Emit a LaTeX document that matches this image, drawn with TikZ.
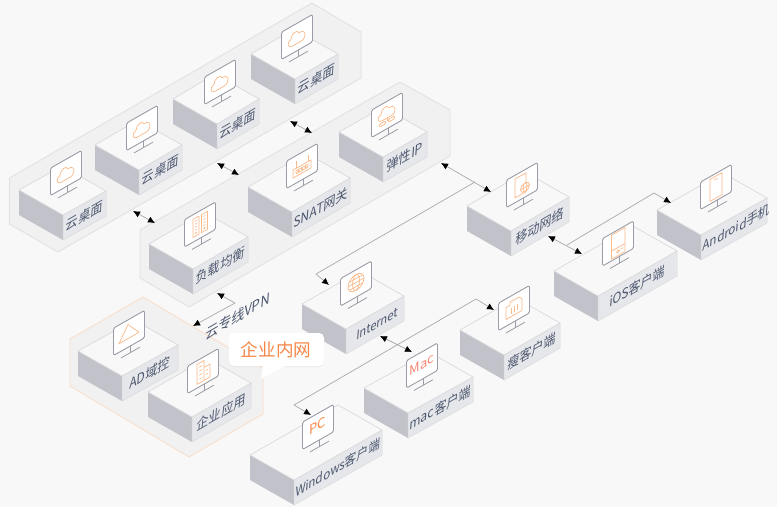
\documentclass[tikz,border=0pt]{standalone}
\usepackage{fontspec}
\newfontfamily\cjk{Noto Sans CJK SC}
\usetikzlibrary{calc,arrows.meta,shadows}

\definecolor{pagebg}{HTML}{F8F8F8}
\definecolor{panelfill}{HTML}{F1F1F2}
\definecolor{panelline}{HTML}{E0E0E1}
\definecolor{sideleft}{HTML}{C2C3CA}
\definecolor{sideright}{HTML}{E6E7EA}
\definecolor{topline}{HTML}{DADADC}
\definecolor{screenline}{HTML}{9C9CA8}
\definecolor{glyphorange}{RGB}{251,186,138}
\definecolor{labelcol}{HTML}{4D5870}
\definecolor{linkcol}{HTML}{A9A9AD}
\definecolor{intraline}{HTML}{FADDC6}
\definecolor{intratext}{RGB}{247,135,70}
\definecolor{mactext}{HTML}{F58772}

\tikzset{
  panel/.style={fill=panelfill,draw=panelline,line width=0.8pt},
  intranet/.style={fill=panelfill,draw=intraline,line width=0.8pt},
  boxtop/.style={fill=pagebg,draw=topline,line width=0.7pt},
  boxleft/.style={fill=sideleft},
  boxright/.style={fill=sideright,draw=topline,line width=0.5pt},
  isolabel/.style={cm={0.866,0.5,0.08,1,(0,0)},font=\cjk\fontsize{14}{15}\selectfont,text=labelcol,inner sep=0pt},
  screen/.style={fill=white,draw=screenline,line width=0.9pt,rounded corners=1.5pt},
  stand/.style={draw=screenline,line width=0.8pt},
  glyph/.style={color=glyphorange,draw=glyphorange,line width=0.7pt,line join=round},
  glyphtext/.style={transform shape,font=\cjk\fontsize{13}{13}\selectfont,inner sep=0pt},
  link/.style={draw=linkcol,line width=0.7pt,line join=round,
    arrows={-},>={Latex[length=7pt,width=6.5pt,black]}},
}

% one block: front corner, right corner, label
\newcommand{\isobox}[6]{
  \coordinate (#1f) at (#2,#3);
  \coordinate (#1r) at (#4,#5);
  \coordinate (#1l) at ($(#1f)+(-44,-25)$);
  \coordinate (#1b) at ($(#1l)+(#1r)-(#1f)$);
  \path[boxleft] (#1l) -- (#1f) -- ++(0,25) -- ($(#1l)+(0,25)$) -- cycle;
  \path[boxright] (#1f) -- (#1r) -- ($(#1r)+(0,25)$) -- ($(#1f)+(0,25)$) -- cycle;
  \path[boxtop] (#1l) -- (#1f) -- (#1r) -- (#1b) -- cycle;
  \node[isolabel] (#1t) at ($0.5*(#1f)+0.5*(#1r)+(0,12.5)$) {#6};
}

% monitor on a block, the icon is drawn on the slanted screen
\newcommand{\monitor}[3]{
  \begin{scope}[shift={(#1,#2)},yslant=0.57]
    \path[screen] (-15.5,-13.7) rectangle (15.5,13.7);
    \path[stand] (1.5,13.7) -- (1.5,20.4);
    \path[stand] (-8,20.4) -- (11,20.4);
    #3
  \end{scope}
}

\newcommand{\cloudicon}{
  \path[glyph] (-5,6.5) .. controls (-9.5,6.5) and (-10.5,0) .. (-6,-1) .. controls (-6,-6.5) and (0.5,-8) .. (2,-3) .. controls (6,-4.5) and (9.5,1) .. (7.5,4.5) .. controls (6.8,6) and (5.5,6.5) .. (4,6.5) -- cycle;
}
\newcommand{\ipicon}{
  \path[glyph] (-5,3) .. controls (-9.5,3) and (-10.5,-3) .. (-6,-4) .. controls (-6,-9.5) and (0.5,-11) .. (2,-6) .. controls (6,-7.5) and (9.5,-2) .. (7.5,1.5) .. controls (6.8,3) and (5.5,3) .. (4,3) -- cycle;
  \path[glyph] (0,3) -- (0,6);
  \path[glyph,rounded corners=1pt] (-7.5,5) rectangle (-1.5,8);
  \path[glyph,rounded corners=1pt] (1.5,5) rectangle (7.5,8);
}
\newcommand{\serversicon}{
  \path[glyph] (-7,-9) rectangle (-1,9);
  \path[glyph] (1.5,-9) rectangle (7.5,9);
  \foreach \hgt in {-6,-3,0,3}{
    \path[glyph,line width=0.6pt] (-5,\hgt) -- (-3,\hgt);
    \path[glyph,line width=0.6pt] (3.5,\hgt) -- (5.5,\hgt);
  }
  \path[glyph] (-4,6) circle (0.6);
  \path[glyph] (4.5,6) circle (0.6);
}
\newcommand{\routericon}{
  \path[glyph] (-9,-1) rectangle (9,7);
  \path[glyph] (-6,-1) -- (-6,-8);
  \path[glyph] (6,-1) -- (6,-8);
  \path[glyph,rounded corners=0.5pt] (-6,1.5) rectangle (6,4.5);
  \foreach \hgt in {-3.5,0,3.5}{\path[glyph] (\hgt,3) circle (0.7);}
}
\newcommand{\triangleicon}{
  \path[glyph] (-1,-9) -- (10,5) -- (-10,5) -- cycle;
}
\newcommand{\buildingicon}{
  \path[glyph] (-6,-10) rectangle (1,10);
  \path[glyph] (1,-3) -- (7,-3) -- (7,10) -- (1,10);
  \foreach \hgt in {-6,-2,2,6}{\path[glyph,line width=0.6pt] (-4,\hgt) -- (-1,\hgt);}
  \foreach \hgt in {1,5}{\path[glyph,line width=0.6pt] (3,\hgt) -- (5,\hgt);}
}
\newcommand{\globeicon}{
  \path[glyph] (0,-1) circle (8);
  \path[glyph] (0,-1) ellipse (3.5 and 8);
  \path[glyph] (-8,-1) -- (8,-1);
  \path[glyph] (-7,-5) -- (7,-5);
  \path[glyph] (-7,3) -- (7,3);
}
\newcommand{\thinicon}{
  \path[glyph] (-8,-5) -- (-4,-5) -- (-4,-8) -- (5,-8) -- (8,-5) -- (8,7) -- (-8,7) -- cycle;
  \foreach \hgt in {-3,0,3}{\path[glyph] (\hgt,-2) -- (\hgt,4);}
}
\newcommand{\mobileicon}{
  \path[glyph] (-7,-10) rectangle (4,9);
  \path[glyph,fill=white] (3,4) circle (4.5);
  \path[glyph] (3,4) ellipse (2 and 4.5);
  \path[glyph] (-1.5,4) -- (7.5,4);
}
\newcommand{\padicon}{
  \path[glyph] (-6.5,-12) rectangle (7,12);
  \path[glyph] (-6.5,4) -- (7,4);
  \path[glyph] (0,8) circle (1.5);
  \path[glyph] (3,7) -- (5,7);
}
\newcommand{\phoneicon}{
  \path[glyph] (-6,-11) rectangle (6,11);
  \path[glyph] (-1.5,-8) -- (1.5,-8);
}

\begin{document}
\begin{tikzpicture}[x=1pt,y=-1pt]
\useasboundingbox (0,0) rectangle (777,507);
\fill[pagebg] (0,0) rectangle (777,507);

% panels
\path[panel] (9.5,178) -- (312,3) -- (361,32) -- (361,78) -- (58,252) -- (9.5,224) -- cycle;
\path[panel] (140,230) -- (400,82) -- (450,110) -- (450,156) -- (189,307) -- (140,278) -- cycle;
\path[intranet] (70,339) -- (143,297) -- (263,368) -- (263,414) -- (189,457) -- (70,386) -- cycle;

% blocks
\isobox{deskD}{295}{79}{338}{54}{云桌面}
\isobox{deskC}{217}{124}{259}{99}{云桌面}
\isobox{deskB}{139}{170}{182}{145}{云桌面}
\isobox{deskA}{63}{215}{106}{191}{云桌面}
\isobox{eip}{383}{157}{427}{132}{弹性IP}
\isobox{snat}{292}{212}{350}{178}{SNAT网关}
\isobox{slb}{193}{269}{248}{237}{负载均衡}
\isobox{ad}{122}{376}{178}{345}{AD域控}
\isobox{app}{192}{417}{251}{383}{企业应用}
\isobox{net}{346}{329}{404}{296}{\fontsize{13}{14}\selectfont\ \ Internet}
\isobox{thin}{504}{355}{560}{323}{瘦客户端}
\isobox{mac}{408}{413}{473}{377}{mac客户端}
\isobox{win}{294}{480}{382}{430}{\fontsize{13.5}{14}\selectfont Windows客户端}
\isobox{mob}{511}{231}{569}{197}{移动网络}
\isobox{ios}{598}{296}{677}{251}{iOS客户端}
\isobox{droid}{701}{235}{767}{198}{\fontsize{13.5}{14}\selectfont\ \ Android手机}

% monitors
\monitor{297}{37}{\cloudicon}
\monitor{220}{82}{\cloudicon}
\monitor{142}{128}{\cloudicon}
\monitor{66}{173}{\cloudicon}
\monitor{387}{115}{\ipicon}
\monitor{302}{166}{\routericon}
\monitor{200}{224.5}{\serversicon}
\monitor{129}{333}{\triangleicon}
\monitor{203}{371}{\buildingicon}
\monitor{356}{283.5}{\globeicon}
\monitor{514}{308}{\thinicon}
\monitor{422}{365.5}{\node[glyphtext,text=mactext] (macname) at (0,-1) {Mac};}
\monitor{318}{427}{\node[glyphtext,text=intratext] (pcname) at (0,-1) {PC};}
\monitor{522}{185}{\mobileicon}
\monitor{618}{243.5}{\padicon}
\monitor{716}{187}{\phoneicon}

% link ends
\coordinate (deskAend) at (133,211);
\coordinate (slbend) at (155,223);
\coordinate (deskCend) at (217,163);
\coordinate (snatend) at (239,175);
\coordinate (deskDend) at (290,121);
\coordinate (eipleft) at (312,133);
\coordinate (eipend) at (441,163);
\coordinate (mobend) at (491,192);
\coordinate (netfork) at (475,182);
\coordinate (netbend) at (316,274);
\coordinate (netend) at (329,285);
\coordinate (vpntop) at (217,293);
\coordinate (vpnbend) at (235,303);
\coordinate (vpnend) at (193,326);
\coordinate (netlow) at (380,336);
\coordinate (macend) at (412,352);
\coordinate (pcend) at (311,415);
\coordinate (pcbend) at (294,405);
\coordinate (thinbend) at (476,299);
\coordinate (thinend) at (494,310);
\coordinate (moblow) at (548,236);
\coordinate (iosend) at (582,254);
\coordinate (iosfork) at (567,245);
\coordinate (droidbend) at (654,193);
\coordinate (droidend) at (671,203);

% links
\path[link,<->] (deskAend) -- (slbend);
\path[link,<->] (deskCend) -- (snatend);
\path[link,<->] (deskDend) -- (eipleft);
\path[link,<->] (eipend) -- (mobend);
\path[link,->] (netfork) -- (netbend) -- (netend);
\path[link,<->] (vpntop) -- (vpnbend) -- (vpnend);
\path[link,<->] (netlow) -- (macend);
\path[link,<->] (pcend) -- (pcbend) -- (thinbend) -- (thinend);
\path[link,<->] (moblow) -- (iosend);
\path[link,->] (iosfork) -- (droidbend) -- (droidend);

\node[isolabel,font=\cjk\fontsize{15}{16}\selectfont] (vpnname) at (238,316) {云专线VPN};

% callout
\fill[white,drop shadow={opacity=0.1,shadow xshift=0pt,shadow yshift=-1pt}] (234,333) [rounded corners=5pt] -- (324,333) -- (324,366) -- (229,366) -- (229,333) -- cycle;
\fill[white] (263,365) -- (261,379) -- (287,365) -- cycle;
\node[font=\cjk\fontsize{17.6}{18}\selectfont,text=intratext,inner sep=0pt] (bubble) at (276,350) {企业内网};
\end{tikzpicture}
\end{document}
